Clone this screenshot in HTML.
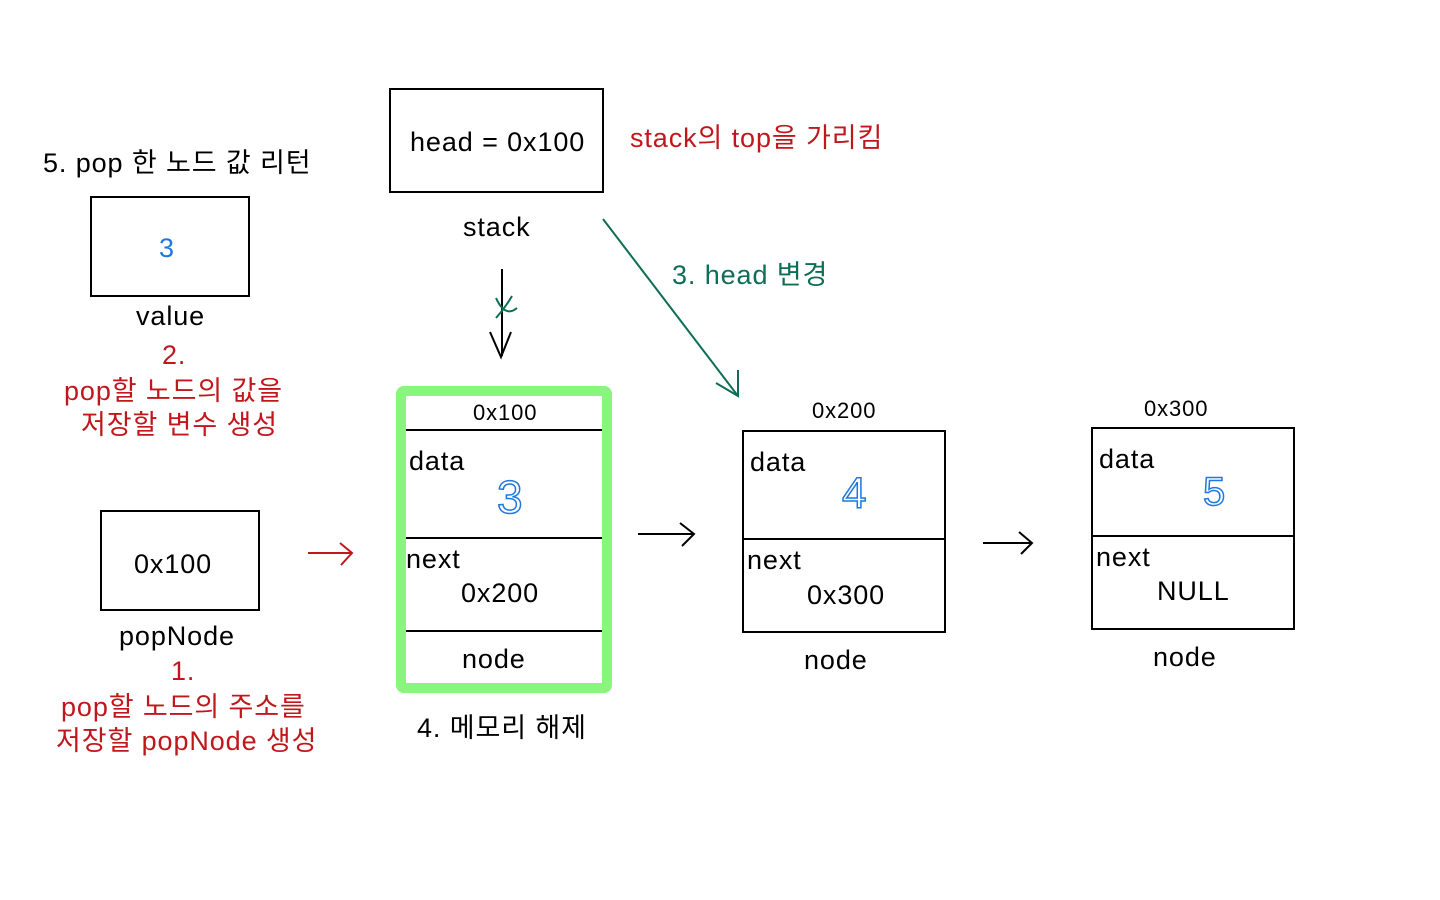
<!DOCTYPE html>
<html><head><meta charset="utf-8"><style>
html,body{margin:0;padding:0;background:#fff;width:1440px;height:900px;overflow:hidden}
svg{display:block}
text{font-family:"Liberation Sans","Noto Sans CJK KR",sans-serif;letter-spacing:0.9px}
</style></head><body>
<svg width="1440" height="900" viewBox="0 0 1440 900" xmlns="http://www.w3.org/2000/svg">
<g fill="none" stroke="#000" stroke-width="2">
<rect x="390" y="89" width="213" height="103"/>
<rect x="91" y="197" width="158" height="99"/>
<rect x="101" y="511" width="158" height="99"/>
<rect x="402" y="430" width="202" height="201"/>
<line x1="402" y1="538" x2="604" y2="538"/>
<rect x="743" y="431" width="202" height="201"/>
<line x1="743" y1="539" x2="945" y2="539"/>
<rect x="1092" y="428" width="202" height="201"/>
<line x1="1092" y1="536" x2="1294" y2="536"/>
<line x1="502" y1="269" x2="502" y2="356"/>
<polyline points="490,332 501,357 511,332"/>
<line x1="638" y1="534" x2="694" y2="534"/>
<polyline points="680,523 694,534 682,546"/>
<line x1="983" y1="543" x2="1032" y2="543"/>
<polyline points="1019,532 1032,543 1021,554"/>
</g>
<rect x="401" y="391" width="206" height="297" fill="none" stroke="#88f57c" stroke-width="10" rx="3"/>
<g fill="none" stroke="#c0171c" stroke-width="2">
<line x1="308" y1="553" x2="352" y2="553"/>
<polyline points="340,543 352,553 341,565"/>
</g>
<g fill="none" stroke="#0e6e55" stroke-width="2">
<line x1="603" y1="219" x2="738" y2="396"/>
<polyline points="738,370 738,396 716,383"/>
<path d="M496 298 Q505 318 517 308 M496 318 Q505 308 512 296"/>
</g>
<g font-size="27" fill="#000">
<text x="410" y="151">head = 0x100</text>
<text x="463" y="236">stack</text>
<text x="43" y="172">5. pop 한 노드 값 리턴</text>
<text x="136" y="325">value</text>
<text x="134" y="573">0x100</text>
<text x="119" y="645">popNode</text>
<text x="409" y="470">data</text>
<text x="406" y="568">next</text>
<text x="461" y="602">0x200</text>
<text x="462" y="668">node</text>
<text x="417" y="737">4. 메모리 해제</text>
<text x="750" y="471">data</text>
<text x="747" y="569">next</text>
<text x="807" y="604">0x300</text>
<text x="804" y="669">node</text>
<text x="1099" y="468">data</text>
<text x="1096" y="566">next</text>
<text x="1157" y="600">NULL</text>
<text x="1153" y="666">node</text>
</g>
<g font-size="22" fill="#000" style="letter-spacing:0.5px">
<text x="473" y="420">0x100</text>
<text x="812" y="418">0x200</text>
<text x="1144" y="416">0x300</text>
</g>
<g font-size="27" fill="#c0171c">
<text x="630" y="147">stack의 top을 가리킴</text>
<text x="162" y="364">2.</text>
<text x="64" y="400">pop할 노드의 값을</text>
<text x="81" y="434">저장할 변수 생성</text>
<text x="171" y="680">1.</text>
<text x="61" y="716">pop할 노드의 주소를</text>
<text x="56" y="750">저장할 popNode 생성</text>
</g>
<text x="672" y="284" font-size="27" fill="#0e6e55">3. head 변경</text>
<g fill="#1e78e0">
<text x="159" y="257" font-size="27">3</text>
</g>
<g fill="none" stroke="#1e78e0" stroke-width="1.5">
<text x="497" y="513" font-size="46">3</text>
<text x="842" y="508" font-size="44">4</text>
<text x="1203" y="505" font-size="40">5</text>
</g>
</svg>
</body></html>
